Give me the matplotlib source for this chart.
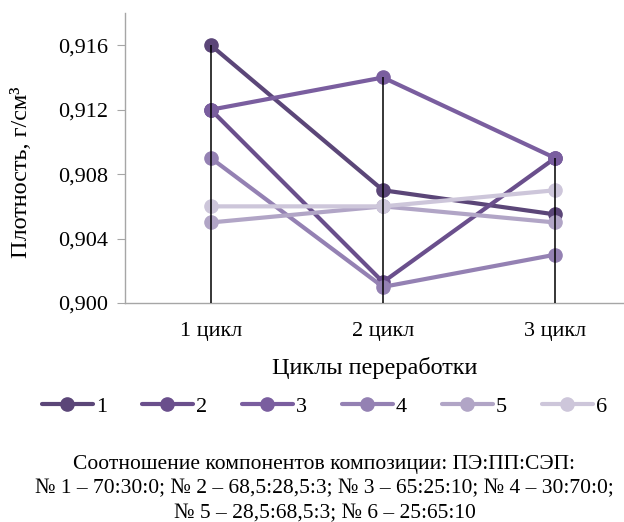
import matplotlib
matplotlib.use('Agg')
import matplotlib.pyplot as plt

plt.rcParams['font.family'] = ['Liberation Serif', 'DejaVu Serif']

cycles = ['1 цикл', '2 цикл', '3 цикл']
series_names = ['1', '2', '3', '4', '5', '6']
density_1 = [0.916, 0.907, 0.9055]
density_2 = [0.912, 0.9013, 0.909]
density_3 = [0.912, 0.914, 0.909]
density_4 = [0.909, 0.901, 0.903]
density_5 = [0.905, 0.906, 0.905]
density_6 = [0.906, 0.906, 0.907]
y_ticks = [0.900, 0.904, 0.908, 0.912, 0.916]

all_series = [density_1, density_2, density_3, density_4, density_5, density_6]
colors = ['#5b4678', '#6a4f8c', '#7a5e9f', '#9481b3', '#b1a5c6', '#cdc6da']

fig = plt.figure(figsize=(6.24, 5.22), dpi=100)
ax = fig.add_axes([0.200, 0.4195, 0.800, 0.5555])

x = list(range(len(cycles)))
ymin, ymax = 0.900, 0.918

# drop lines from the highest value down to the axis
for i in x:
    top = max(s[i] for s in all_series)
    ax.vlines(i, ymin, top, color='black', linewidth=1.1, zorder=5)

for vals, name, c in zip(all_series, series_names, colors):
    ax.plot(x, vals, color=c, linewidth=3, marker='o', markersize=9.5,
            label=name, zorder=3, solid_capstyle='round')

ax.set_xlim(-0.5, 2.4)
ax.set_ylim(ymin, ymax)
ax.set_yticks(y_ticks)
ax.set_yticklabels([f'{v:.3f}'.replace('.', ',') for v in y_ticks])
ax.set_xticks(x)
ax.set_xticklabels(cycles)

for side in ['top', 'right']:
    ax.spines[side].set_visible(False)
for side in ['left', 'bottom']:
    ax.spines[side].set_color('#a6a6a6')
    ax.spines[side].set_linewidth(1.0)

ax.tick_params(axis='y', length=6, color='#a6a6a6', labelsize=16, pad=6)
ax.tick_params(axis='x', length=0, labelsize=16, pad=14)

ax.set_ylabel('Плотность, г/см³', fontsize=17.5)
ax.yaxis.set_label_coords(-0.185, 0.452)
ax.set_xlabel('Циклы переработки', fontsize=17.5, labelpad=11)

fig.legend(loc='center', bbox_to_anchor=(0.52, 0.221), ncol=6, frameon=False,
           fontsize=16, handlelength=2.3, handletextpad=0.15, columnspacing=1.55)

fig.text(0.52, 0.063,
         'Соотношение компонентов композиции: ПЭ:ПП:СЭП:\n'
         '№ 1 – 70:30:0; № 2 – 68,5:28,5:3; № 3 – 65:25:10; № 4 – 30:70:0;\n'
         '№ 5 – 28,5:68,5:3; № 6 – 25:65:10',
         ha='center', va='center', fontsize=15.5, linespacing=1.37)

fig.savefig('out.png', dpi=100)
